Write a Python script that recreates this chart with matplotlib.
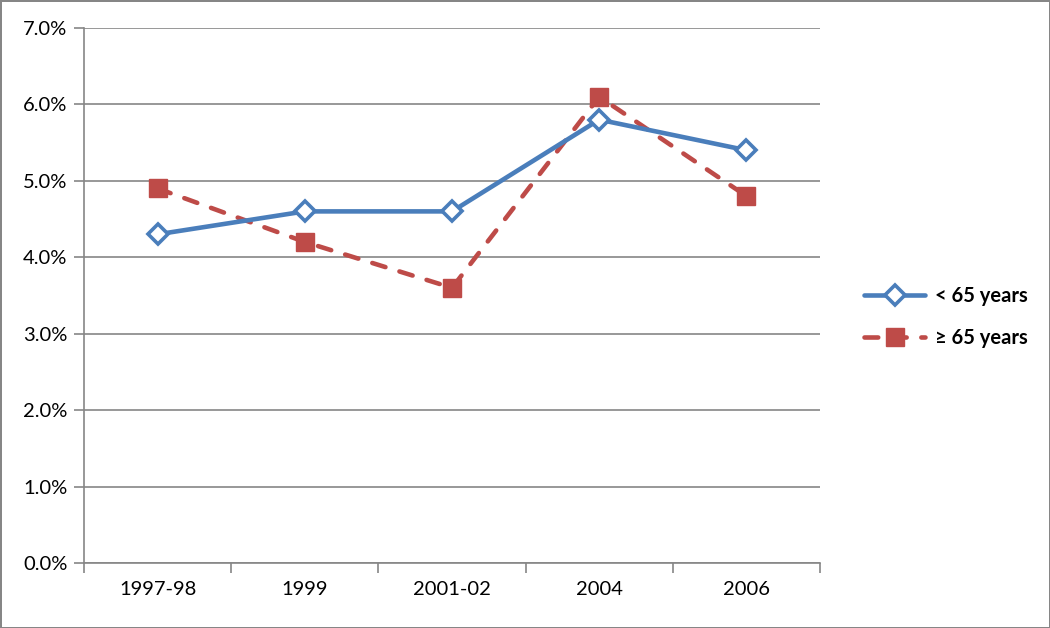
import matplotlib.pyplot as plt
import numpy as np
from matplotlib.ticker import FuncFormatter, FixedLocator

plt.rcParams['font.family'] = ['Lato', 'DejaVu Sans']

# data
years = ["1997-98", "1999", "2001-02", "2004", "2006"]
under_65 = [4.3, 4.6, 4.6, 5.8, 5.4]
over_65 = [4.9, 4.2, 3.6, 6.1, 4.8]

blue = "#4A7EBB"
red = "#BE4B48"
grey = "#868686"

fig = plt.figure(figsize=(10.5, 6.28), dpi=100)
fig.patch.set_edgecolor(grey)
fig.patch.set_linewidth(2)
ax = fig.add_axes([0.08, 0.1035, 0.701, 0.852])

x = np.arange(len(years))
ax.plot(x, over_65, color=red, lw=3.3, linestyle=(0, (3, 3.2)),
        dash_capstyle="round", marker="s", markersize=12.5,
        markerfacecolor=red, markeredgecolor=red, label="\u2265 65 years", zorder=3)
ax.plot(x, under_65, color=blue, lw=3.3, solid_capstyle="round",
        marker="D", markersize=10, markerfacecolor="white",
        markeredgecolor=blue, markeredgewidth=2.6, label="< 65 years", zorder=4)

ax.set_xlim(-0.5, len(years) - 0.5)
ax.set_ylim(0, 7)
ax.set_yticks(np.arange(0, 7.5, 1))
ax.yaxis.set_major_formatter(FuncFormatter(lambda v, p: f"{v:.1f}%"))
ax.grid(axis="y", color=grey, lw=1.2)
ax.set_axisbelow(True)

ax.set_xticks(x)
ax.set_xticklabels(years)
ax.xaxis.set_minor_locator(FixedLocator(np.arange(-0.5, len(years), 1)))
ax.tick_params(axis="x", which="major", length=0, pad=13, labelsize=14.5)
ax.tick_params(axis="x", which="minor", length=7, color=grey, width=1.2)
ax.tick_params(axis="y", length=7, color=grey, width=1.2, pad=5, labelsize=14.5)

for s in ["top", "right"]:
    ax.spines[s].set_visible(False)
for s in ["left", "bottom"]:
    ax.spines[s].set_color(grey)
    ax.spines[s].set_linewidth(1.2)

h, l = ax.get_legend_handles_labels()
leg = fig.legend(h[::-1], l[::-1], loc="center left", bbox_to_anchor=(0.806, 0.495),
                 frameon=False, prop={"weight": "bold", "size": 14.5},
                 handlelength=3, labelspacing=1.1, handletextpad=0.5)

fig.savefig("out.png", dpi=100, edgecolor=fig.get_edgecolor())
